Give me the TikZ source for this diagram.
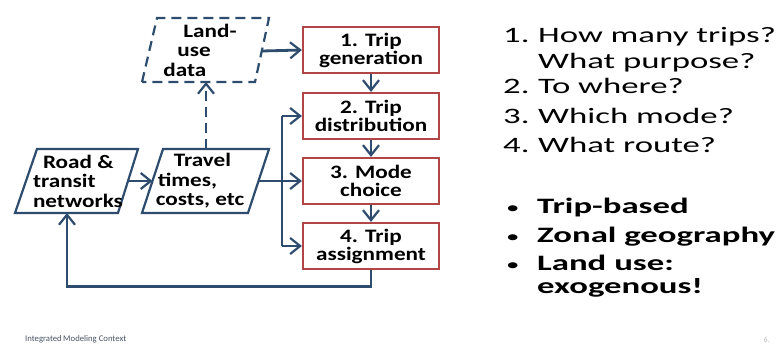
\documentclass[tikz,border=0pt]{standalone}
\usepackage{fontspec}
\setmainfont{Carlito}
\newfontfamily\rtf[FakeStretch=1.58]{Carlito}
\newfontfamily\dgf[FakeStretch=1.22]{Carlito}
\usetikzlibrary{arrows.meta}
\definecolor{lineblue}{HTML}{2E4D6E}
\definecolor{boxred}{HTML}{B24545}
\definecolor{footgray}{HTML}{4A5566}
\begin{document}
\begin{tikzpicture}[x=1pt,y=-1pt,
  conn/.style={draw=lineblue,line width=2.8pt,-{Straight Barb[length=10pt,width=16pt,line width=2.2pt]}},
  plain/.style={draw=lineblue,line width=2.8pt},
  para/.style={draw=lineblue,line width=2.2pt,fill=white,line join=miter},
  stepbox/.style={draw=boxred,line width=2.2pt,fill=white,minimum width=136pt,minimum height=46pt,inner sep=0pt,align=center,font=\dgf\bfseries\fontsize{19}{18}\selectfont},
  ptext/.style={inner sep=0pt,align=left,font=\dgf\bfseries\fontsize{19}{19.5}\selectfont},
  rline/.style={anchor=base west,inner sep=0pt,font=\rtf\fontsize{22}{26}\selectfont},
  bline/.style={anchor=base west,inner sep=0pt,font=\rtf\bfseries\fontsize{22}{26}\selectfont}]
\useasboundingbox (0,0) rectangle (778,345);
\fill[white] (0,0) rectangle (778,345);

% parallelograms
\draw[para,dashed,dash pattern=on 10pt off 6pt] (142,82) -- (157,18) -- (269,18) -- (255,82) -- cycle;
\draw[para] (15,213) -- (37,149) -- (138,149) -- (118,213) -- cycle;
\draw[para] (142,213) -- (163,149) -- (269,149) -- (248,213) -- cycle;

\node[ptext] (land) at (200,50) {\hspace*{20pt}Land-\\\hspace*{14pt}use\\data};
\node[ptext] (road) at (78,181) {\hspace*{10pt}Road \&\\transit\\networks};
\node[ptext] (trav) at (200,181) {\hspace*{18pt}Travel\\\hspace*{2pt}times,\\costs, etc};

\coordinate (landS) at (206,82);
\coordinate (landE) at (262,51);
\coordinate (travN) at (206,149);
\coordinate (travW) at (152.5,181);
\coordinate (travE) at (258.5,181);
\coordinate (roadE) at (128,181);
\coordinate (roadS) at (67,213);
\coordinate (br) at (282,181);

% step boxes
\node[stepbox] (b1) at (371,50) {1. Trip\\generation};
\node[stepbox] (b2) at (371,116) {2. Trip\\distribution};
\node[stepbox] (b3) at (371,181) {3. Mode\\choice};
\node[stepbox] (b4) at (371,246) {4. Trip\\assignment};

% connectors
\draw[conn] (b1.south) -- (b2.north);
\draw[conn] (b2.south) -- (b3.north);
\draw[conn] (b3.south) -- (b4.north);
\draw[conn] (landE) -- (b1.west);
\draw[conn,dashed,dash pattern=on 10pt off 6pt] (travN) -- (landS);
\draw[conn] (roadE) -- (travW);
\draw[conn] (travE) -- (b3.west);
\draw[plain] (br |- b2.west) -- (br |- b4.west);
\draw[conn] (br |- b2.west) -- (b2.west);
\draw[conn] (br |- b4.west) -- (b4.west);
\draw[conn] (b4.south) -- ++(0,16) -| (roadS);

% right text
\node[rline] (q1) at (503,42) {\makebox[35pt][l]{1.}How many trips?};
\node[rline] (q1b) at (538,68) {What purpose?};
\node[rline] (q2) at (503,93) {\makebox[35pt][l]{2.}To where?};
\node[rline] (q3) at (503,123) {\makebox[35pt][l]{3.}Which mode?};
\node[rline] (q4) at (503,152) {\makebox[35pt][l]{4.}What route?};

\node[bline] (p1) at (506,213) {\makebox[31pt][l]{\mdseries\fontsize{17}{20}\selectfont•}Trip-based};
\node[bline] (p2) at (506,242) {\makebox[31pt][l]{\mdseries\fontsize{17}{20}\selectfont•}Zonal geography};
\node[bline] (p3) at (506,270) {\makebox[31pt][l]{\mdseries\fontsize{17}{20}\selectfont•}Land use:};
\node[bline] (p3b) at (537,293) {exogenous!};

% footer
\node[anchor=base west,inner sep=0pt,text=footgray,font=\fontsize{8.7}{9}\selectfont] (foot) at (25,341) {Integrated\,Modeling Context};
\node[anchor=base east,inner sep=0pt,text=black!25,font=\fontsize{8}{9}\selectfont] (pg) at (770,342) {6.};
\end{tikzpicture}
\end{document}
